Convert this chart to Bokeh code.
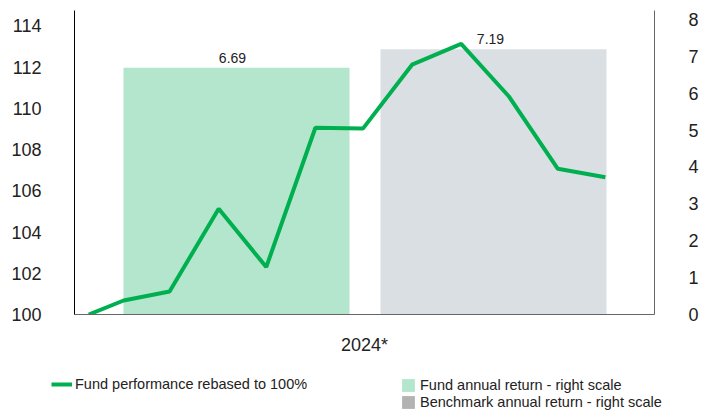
from datetime import date
from bokeh.plotting import figure
from bokeh.layouts import column
from bokeh.models import (Range1d, FactorRange, LinearAxis, FixedTicker, Legend,
                          LegendItem, ColumnDataSource)
from bokeh.transform import dodge
from bokeh.core.properties import value
from bokeh.embed import file_html
from bokeh.resources import INLINE

# ---- data ----
categories = ["2024*"]
fund_return = [6.69]
benchmark_return = [7.19]
fund_return_labels = ["6.69"]
benchmark_return_labels = ["7.19"]
index_dates = ["2024-01-09", "2024-01-31", "2024-02-29", "2024-03-31", "2024-04-30",
               "2024-05-31", "2024-06-30", "2024-07-31", "2024-08-31", "2024-09-30",
               "2024-10-31", "2024-11-30"]
fund_index = [100.0, 100.68, 101.12, 105.13, 102.30, 109.06,
              109.02, 112.12, 113.13, 110.59, 107.07, 106.66]
left_ticks = [100, 102, 104, 106, 108, 110, 112, 114]
right_ticks = [0, 1, 2, 3, 4, 5, 6, 7, 8]

# ---- layout / style ----
FONT = "Liberation Sans"
GREEN = "#00b050"
FUND_BAR = "#b3e6cc"
BENCH_BAR = "#dadfe3"
BENCH_SWATCH = "#b3b3b3"
TEXT = "#222222"
YEAR_START = date(2023, 12, 31)   # the category band spans the calendar year
YEAR_DAYS = 366
BAR_W = 0.3897
FUND_OFF = -0.2207
BENCH_OFF = 0.2224

p = figure(width=710, height=360,
           x_range=FactorRange(factors=categories),
           y_range=Range1d(100, 114.75),
           output_backend="svg", toolbar_location=None,
           min_border_left=74, min_border_right=56,
           min_border_top=10, min_border_bottom=46)
p.extra_y_ranges = {"right": Range1d(0, 8.244)}

p.outline_line_color = None
p.xgrid.visible = False
p.ygrid.visible = False
p.background_fill_color = "white"
p.border_fill_color = "white"

bars = ColumnDataSource(dict(cat=categories, fund=fund_return, bench=benchmark_return,
                             fl=fund_return_labels, bl=benchmark_return_labels))

p.vbar(x=dodge("cat", FUND_OFF, range=p.x_range), top="fund", width=BAR_W,
       source=bars, y_range_name="right", fill_color=FUND_BAR, line_color=None)
p.vbar(x=dodge("cat", BENCH_OFF, range=p.x_range), top="bench", width=BAR_W,
       source=bars, y_range_name="right", fill_color=BENCH_BAR, line_color=None)

p.text(x=dodge("cat", FUND_OFF, range=p.x_range), y="fund", text="fl", source=bars,
       y_range_name="right", x_offset=-4, y_offset=-10, text_align="center",
       text_baseline="alphabetic", text_font=value(FONT), text_font_size="14px",
       text_color=TEXT)
p.text(x=dodge("cat", BENCH_OFF, range=p.x_range), y="bench", text="bl", source=bars,
       y_range_name="right", x_offset=-3, y_offset=-10, text_align="center",
       text_baseline="alphabetic", text_font=value(FONT), text_font_size="14px",
       text_color=TEXT)

# dates placed inside the category band as fractions of the year
line_x = [(categories[0], -0.5 + (date.fromisoformat(d) - YEAR_START).days / YEAR_DAYS)
          for d in index_dates]
line_src = ColumnDataSource(dict(x=line_x, v=fund_index))
p.line(x="x", y="v", source=line_src, line_color=GREEN, line_width=4)

# ---- axes ----
ya = p.yaxis[0]
ya.ticker = FixedTicker(ticks=left_ticks)
ya.major_tick_line_color = None
ya.minor_tick_line_color = None
ya.axis_line_color = "black"
ya.major_label_standoff = 27
ya.major_label_text_font = FONT
ya.major_label_text_font_size = "18px"
ya.major_label_text_color = TEXT

ra = LinearAxis(y_range_name="right", ticker=FixedTicker(ticks=right_ticks))
ra.major_tick_line_color = None
ra.minor_tick_line_color = None
ra.axis_line_color = "#666666"
ra.major_label_standoff = 28
ra.major_label_text_font = FONT
ra.major_label_text_font_size = "18px"
ra.major_label_text_color = TEXT
p.add_layout(ra, "right")

xa = p.xaxis[0]
xa.major_tick_line_color = None
xa.minor_tick_line_color = None
xa.axis_line_color = "#666666"
xa.major_label_standoff = 14
xa.major_label_text_font = FONT
xa.major_label_text_font_size = "18px"
xa.major_label_text_color = TEXT

# ---- legend strip (separate figure below the chart) ----
lg = figure(width=710, height=50, x_range=Range1d(0, 1), y_range=Range1d(0, 1),
            x_axis_location=None, y_axis_location=None,
            output_backend="svg", toolbar_location=None,
            min_border_left=0, min_border_right=0, min_border_top=0, min_border_bottom=0)
lg.grid.visible = False
lg.outline_line_color = None
lg.background_fill_color = "white"
lg.border_fill_color = "white"
for fig in (p, lg):
    if "frame_align" in fig.properties():
        fig.frame_align = False

# key glyphs lie outside the strip's ranges: only their legend swatches show
k_line = lg.line(x=[2, 3], y=[2, 2], line_color=GREEN, line_width=4)
k_fund = lg.vbar(x=[2], top=[2], width=0.1, fill_color=FUND_BAR, line_color=None)
k_bench = lg.vbar(x=[2], top=[2], width=0.1, fill_color=BENCH_SWATCH, line_color=None)

common = dict(padding=0, margin=0, spacing=1, border_line_alpha=0,
              background_fill_alpha=0, label_text_font=FONT,
              label_text_font_size="14.5px", label_text_color=TEXT,
              label_height=16, glyph_height=16)

leg1 = Legend(items=[LegendItem(label="Fund performance rebased to 100%", renderers=[k_line])],
              location=(51, 18), glyph_width=21, label_standoff=3, **common)
leg2 = Legend(items=[LegendItem(label="Fund annual return - right scale", renderers=[k_fund]),
                     LegendItem(label="Benchmark annual return - right scale", renderers=[k_bench])],
              location=(400, 0), glyph_width=16, label_standoff=4, **common)
lg.add_layout(leg1, "center")
lg.add_layout(leg2, "center")

layout = column(p, lg, spacing=0)
open("out.html", "w").write(file_html(layout, INLINE))
